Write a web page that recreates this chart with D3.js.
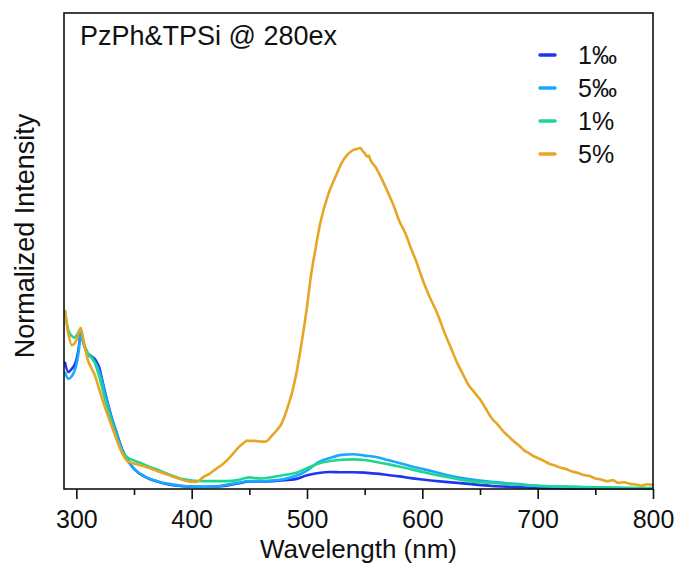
<!DOCTYPE html>
<html>
<head>
<meta charset="utf-8">
<script src="https://cdn.jsdelivr.net/npm/d3@7"></script>
<style>
  body { margin: 0; background: #fff; }
  text { font-family: "Liberation Sans", Arial, sans-serif; fill: #111; }
</style>
</head>
<body>
<div id="chart"></div>
<script>
// series labels and colours (legend order)
const seriesNames = ["1‰", "5‰", "1%", "5%"];
const seriesColors = ["#1f35f0", "#19a8ff", "#1fd690", "#e6a623"];

// x tick labels
const majorTicks = [300, 400, 500, 600, 700, 800];
const minorTicks = [350, 450, 550, 650, 750];

// [wavelength nm, normalized intensity]
const pl1permil = [
  [290, .373], [293, .343], [296, .352], [298, .361], [300, .378], [302, .413], [303.8, .463],
  [306, .431], [308.7, .405], [310, .396], [313, .390], [316, .381], [318, .370], [320, .355],
  [322, .326], [325, .282], [330, .217], [335, .164], [340, .114], [345, .082], [350, .059],
  [360, .035], [370, .022], [380, .013], [390, .009], [400, .007], [410, .006], [420, .007],
  [430, .010], [440, .016], [450, .022], [460, .022], [470, .023], [480, .026], [490, .029],
  [500, .040], [510, .047], [520, .050], [530, .049], [540, .049], [550, .048], [560, .045],
  [570, .041], [580, .037], [590, .032], [600, .028], [620, .021], [640, .015], [660, .009],
  [680, .006], [700, .003], [720, .002], [740, .0015], [770, .0015], [800, .0015]
];

const pl5permil = [
  [290, .344], [293, .323], [296, .331], [298, .343], [300, .364], [302, .402], [303.8, .457],
  [306, .431], [308.7, .402], [310, .393], [313, .386], [316, .372], [318, .361], [320, .343],
  [322, .320], [325, .276], [330, .214], [335, .161], [340, .111], [345, .082], [350, .059],
  [360, .035], [370, .023], [380, .015], [390, .010], [400, .007], [410, .007], [420, .007],
  [430, .012], [440, .018], [450, .023], [460, .023], [470, .025], [480, .029], [490, .038],
  [500, .054], [510, .079], [520, .091], [530, .100], [540, .102], [550, .098], [560, .094],
  [570, .085], [580, .076], [590, .067], [600, .059], [620, .042], [640, .029], [660, .021],
  [680, .015], [700, .009], [720, .007], [740, .005], [760, .004], [780, .003], [800, .002]
];

const pl1pct = [
  [290, .525], [293, .466], [296, .449], [298, .444], [300, .449], [302, .460], [303.8, .471],
  [306, .431], [308.7, .408], [310, .399], [313, .387], [316, .370], [320, .328], [325, .261],
  [330, .202], [335, .150], [340, .109], [345, .091], [350, .084], [360, .070], [370, .057],
  [380, .043], [390, .031], [400, .025], [410, .023], [420, .023], [430, .023], [440, .026],
  [445, .031], [450, .034], [455, .032], [460, .031], [470, .035], [480, .041], [490, .047],
  [500, .061], [510, .075], [520, .082], [530, .086], [540, .087], [550, .085], [560, .079],
  [570, .073], [580, .066], [590, .058], [600, .050], [620, .036], [640, .023], [660, .018],
  [680, .013], [700, .010], [720, .007], [740, .006], [760, .004], [780, .003], [800, .003]
];

const pl5pct = [
  [290, .525], [293, .457], [296, .422], [298, .425], [300, .437], [301.5, .452], [303.8, .472],
  [306, .440], [308.7, .396], [310, .378], [313, .355], [316, .334], [320, .290], [325, .238],
  [330, .191], [335, .144], [340, .103], [345, .080], [350, .075], [360, .065], [370, .053],
  [380, .041], [390, .029], [396, .023], [400, .021], [404.5, .021], [410, .035], [416, .046],
  [420, .056], [427.6, .075], [430, .082], [436.3, .105], [440, .120], [445, .135], [448, .142],
  [450, .141], [455, .141], [460, .139], [464, .139], [470, .158], [474, .173], [478.3, .194],
  [480, .208], [483.8, .246], [487, .282], [490, .326], [495.7, .437], [500, .535], [502.9, .613],
  [507.2, .701], [511.5, .780], [518.7, .867], [524.6, .915], [530, .956], [534.7, .979],
  [540, .994], [543, .997], [546.3, 1.000], [548, .992], [550, .985], [552.1, .975], [553.5, .978],
  [555, .965], [560, .941], [562.2, .927], [570, .871], [575, .832], [580, .786], [585, .752],
  [590, .707], [595, .665], [600, .616], [606, .566], [612.8, .516], [620, .452], [625, .412],
  [630.2, .370], [635, .338], [640, .305], [645, .284], [650.4, .261], [655, .236], [660, .208],
  [665, .190], [670, .170], [673.6, .158], [680, .138], [685, .124], [688, .114], [692, .106],
  [696, .097], [700, .091], [705, .083], [710, .074], [715, .069], [720, .062], [725, .058],
  [730, .051], [735, .047], [740, .041], [745, .038], [750, .031], [755, .028], [760, .023],
  [765, .026], [770, .018], [775, .020], [780, .015], [785, .013], [790, .010], [795, .014],
  [800, .012]
];

const seriesData = [pl1permil, pl5permil, pl1pct, pl5pct];

const W = 680, H = 564;
const margin = {top: 13, right: 27, bottom: 75, left: 64};

const svg = d3.select("#chart").append("svg")
  .attr("width", W)
  .attr("height", H);

const x = d3.scaleLinear()
  .domain([289.3, 800])
  .range([margin.left, W - margin.right]);

const y = d3.scaleLinear()
  .domain([0, 1.396])
  .range([H - margin.bottom, margin.top]);

// curves
const line = d3.line()
  .x(d => x(d[0]))
  .y(d => y(d[1]))
  .curve(d3.curveMonotoneX);

svg.append("g")
  .selectAll("path")
  .data(seriesData)
  .join("path")
  .attr("d", line)
  .attr("fill", "none")
  .attr("stroke", (d, i) => seriesColors[i])
  .attr("stroke-width", 2.6)
  .attr("stroke-linejoin", "round");

// x axis, major + minor ticks
const axisMajor = d3.axisBottom(x)
  .tickValues(majorTicks)
  .tickSize(10)
  .tickPadding(11)
  .tickFormat(d3.format("d"));

const gx = svg.append("g")
  .attr("transform", `translate(0,${H - margin.bottom})`)
  .call(axisMajor);
gx.select(".domain").remove();
gx.selectAll(".tick line").attr("stroke", "#111").attr("stroke-width", 1.6);
gx.selectAll(".tick text")
  .style("font-size", "25px")
  .style("font-family", "'Liberation Sans', Arial, sans-serif")
  .attr("fill", "#111");

const gxMinor = svg.append("g")
  .attr("transform", `translate(0,${H - margin.bottom})`)
  .call(d3.axisBottom(x).tickValues(minorTicks).tickSize(6).tickFormat(""));
gxMinor.select(".domain").remove();
gxMinor.selectAll(".tick line").attr("stroke", "#111").attr("stroke-width", 1.6);

// frame
svg.append("rect")
  .attr("x", margin.left)
  .attr("y", margin.top)
  .attr("width", W - margin.left - margin.right)
  .attr("height", H - margin.top - margin.bottom)
  .attr("fill", "none")
  .attr("stroke", "#111")
  .attr("stroke-width", 1.6);

// axis titles
svg.append("text")
  .attr("x", (margin.left + W - margin.right) / 2)
  .attr("y", 558)
  .attr("text-anchor", "middle")
  .style("font-size", "26px")
  .text("Wavelength (nm)");

svg.append("text")
  .attr("transform", "translate(34,236) rotate(-90)")
  .attr("text-anchor", "middle")
  .style("font-size", "27px")
  .text("Normalized Intensity");

// inset title
svg.append("text")
  .attr("x", 80)
  .attr("y", 45)
  .style("font-size", "27px")
  .text("PzPh&TPSi @ 280ex");

// legend
const legend = svg.append("g")
  .selectAll("g")
  .data(seriesNames)
  .join("g")
  .attr("transform", (d, i) => `translate(540,${55 + i * 33})`);

legend.append("line")
  .attr("x1", 0).attr("x2", 15)
  .attr("stroke", (d, i) => seriesColors[i])
  .attr("stroke-width", 3.5)
  .attr("stroke-linecap", "round");

legend.append("text")
  .attr("x", 38)
  .attr("dy", "0.35em")
  .style("font-size", "25px")
  .text(d => d);
</script>
</body>
</html>
